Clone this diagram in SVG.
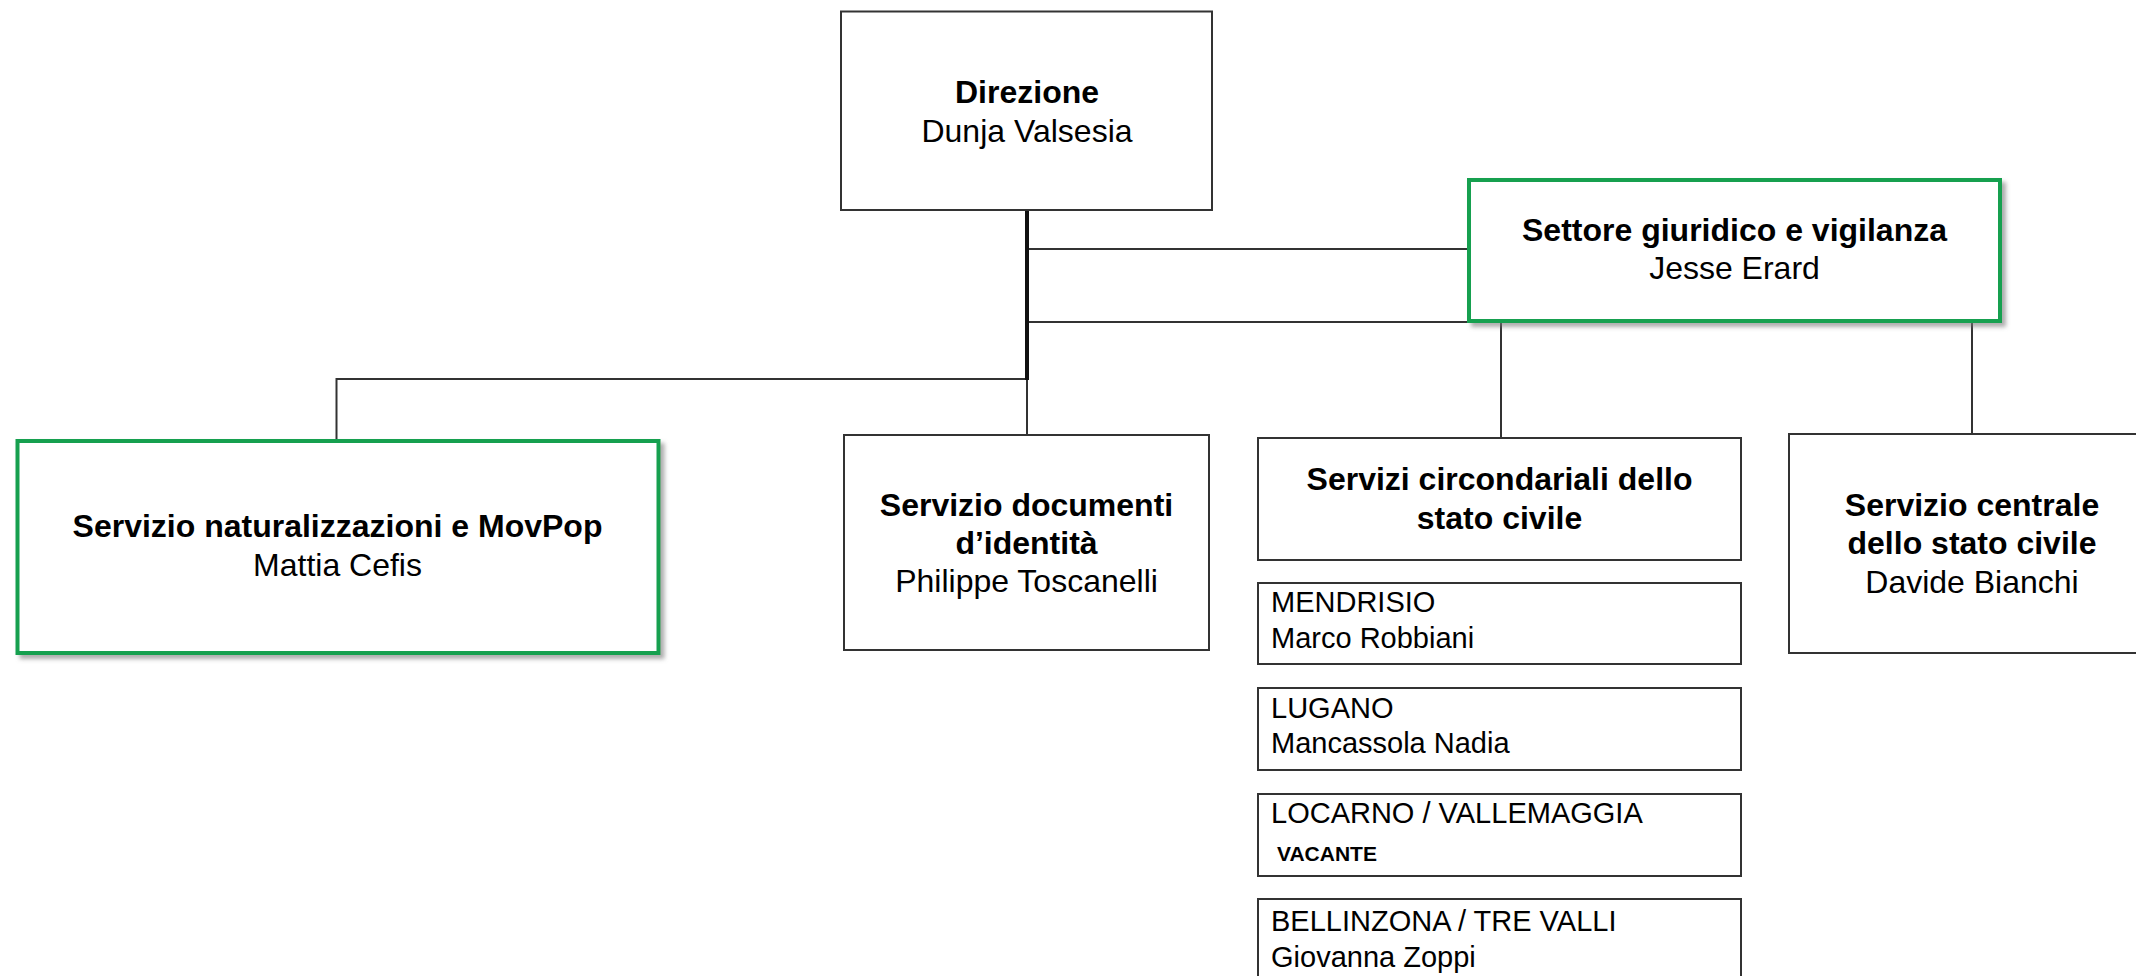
<svg xmlns="http://www.w3.org/2000/svg" width="2136" height="976" viewBox="0 0 2136 976">
<defs>
<filter id="shadow" x="-5%" y="-5%" width="115%" height="120%">
<feDropShadow dx="4" dy="4" stdDeviation="2" flood-color="#777" flood-opacity="0.6"/>
</filter>
<style>
.box{fill:#fff;stroke:#333;stroke-width:2}
.gbox{fill:#fff;stroke:#14a050;stroke-width:4}
.conn{stroke:#333;stroke-width:2;fill:none}
.trunk{stroke:#111;stroke-width:4;fill:none}
text{font-family:"Liberation Sans",Arial,sans-serif;fill:#000}
.b{font-weight:bold;font-size:32px}
.r{font-size:32px}
.c{text-anchor:middle}
.s{font-size:29px}
.v{font-size:21px;font-weight:bold}
</style>
</defs>
<rect width="2136" height="976" fill="#fff"/>
<g id="connectors">
<line class="conn" x1="1027" y1="379" x2="1027" y2="435"/>
<line class="conn" x1="1027" y1="249" x2="1468" y2="249"/>
<line class="conn" x1="1027" y1="322" x2="1468" y2="322"/>
<line class="conn" x1="336.5" y1="379" x2="1027" y2="379"/>
<line class="conn" x1="336.5" y1="378" x2="336.5" y2="440"/>
<line class="conn" x1="1501" y1="323" x2="1501" y2="438"/>
<line class="conn" x1="1972" y1="323" x2="1972" y2="434"/>
<line class="trunk" x1="1027" y1="210" x2="1027" y2="380"/>
</g>
<g id="direzione">
<rect class="box" x="841" y="11.5" width="371" height="198.5"/>
<text class="b c" x="1027" y="103">Direzione</text>
<text class="r c" x="1027" y="142">Dunja Valsesia</text>
</g>
<g id="settore-giuridico">
<rect class="gbox" x="1469" y="180" width="531" height="141" filter="url(#shadow)"/>
<text class="b c" x="1734.5" y="241">Settore giuridico e vigilanza</text>
<text class="r c" x="1734.5" y="279">Jesse Erard</text>
</g>
<g id="naturalizzazioni">
<rect class="gbox" x="17.5" y="441" width="641" height="212" filter="url(#shadow)"/>
<text class="b c" x="337.5" y="537">Servizio naturalizzazioni e MovPop</text>
<text class="r c" x="337.5" y="576">Mattia Cefis</text>
</g>
<g id="documenti">
<rect class="box" x="844" y="435" width="365" height="215"/>
<text class="b c" x="1026.5" y="516">Servizio documenti</text>
<text class="b c" x="1026.5" y="554">d’identità</text>
<text class="r c" x="1026.5" y="592">Philippe Toscanelli</text>
</g>
<g id="circondariali">
<rect class="box" x="1258" y="438" width="483" height="122"/>
<text class="b c" x="1499.5" y="490">Servizi circondariali dello</text>
<text class="b c" x="1499.5" y="529">stato civile</text>
</g>
<g id="centrale">
<rect class="box" x="1789" y="434" width="370" height="219"/>
<text class="b c" x="1972" y="516">Servizio centrale</text>
<text class="b c" x="1972" y="554">dello stato civile</text>
<text class="r c" x="1972" y="593">Davide Bianchi</text>
</g>
<g id="mendrisio">
<rect class="box" x="1258" y="583" width="483" height="81"/>
<text class="s" x="1271" y="612">MENDRISIO</text>
<text class="s" x="1271" y="648">Marco Robbiani</text>
</g>
<g id="lugano">
<rect class="box" x="1258" y="688" width="483" height="82"/>
<text class="s" x="1271" y="718">LUGANO</text>
<text class="s" x="1271" y="753">Mancassola Nadia</text>
</g>
<g id="locarno">
<rect class="box" x="1258" y="794" width="483" height="82"/>
<text class="s" x="1271" y="823">LOCARNO / VALLEMAGGIA</text>
<text class="v" x="1277" y="861">VACANTE</text>
</g>
<g id="bellinzona">
<rect class="box" x="1258" y="899" width="483" height="100"/>
<text class="s" x="1271" y="931">BELLINZONA / TRE VALLI</text>
<text class="s" x="1271" y="967">Giovanna Zoppi</text>
</g>
</svg>
